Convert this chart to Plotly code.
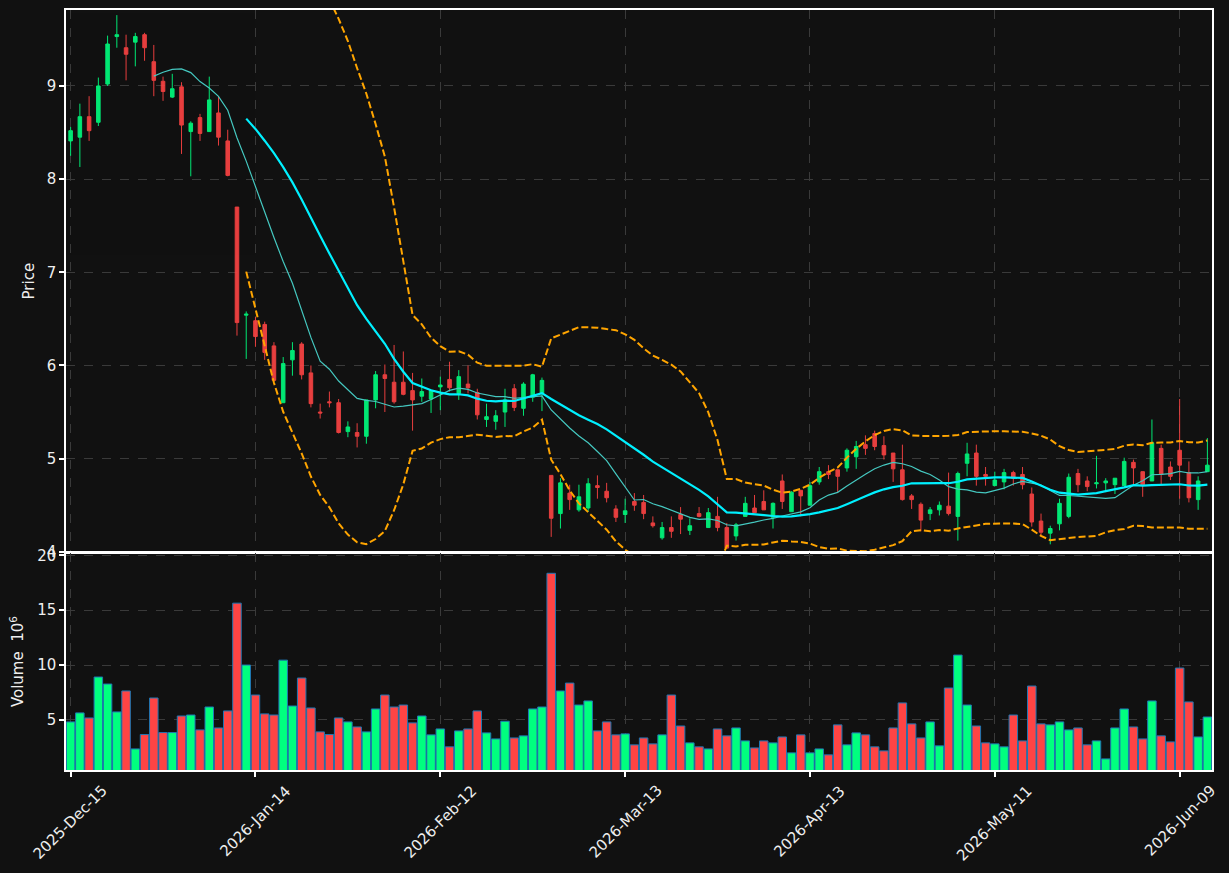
import pandas as pd
import plotly.graph_objects as go
from plotly.subplots import make_subplots

# ---------------- data ----------------
START_DATE = "2025-12-15"
HOLIDAYS = ["2025-12-25", "2026-01-01", "2026-01-19", "2026-02-16", "2026-04-03", "2026-05-25"]

OPEN = [8.41, 8.45, 8.67, 8.61, 9.02, 9.53, 9.41, 9.47, 9.55, 9.26,
        9.05, 8.88, 8.99, 8.51, 8.66, 8.51, 8.71, 8.41, 7.70, 6.54,
        6.48, 6.44, 6.21, 5.60, 6.06, 6.23, 5.92, 5.50, 5.61, 5.60,
        5.29, 5.28, 5.24, 5.63, 5.90, 5.82, 5.82, 5.73, 5.67, 5.64,
        5.77, 5.85, 5.70, 5.80, 5.71, 5.42, 5.40, 5.50, 5.75, 5.54,
        5.66, 5.70, 4.82, 4.41, 4.63, 4.45, 4.47, 4.71, 4.65, 4.46,
        4.40, 4.54, 4.53, 4.31, 4.15, 4.26, 4.40, 4.23, 4.41, 4.26,
        4.38, 4.26, 4.17, 4.38, 4.47, 4.54, 4.37, 4.76, 4.43, 4.66,
        4.50, 4.75, 4.86, 4.88, 4.90, 5.02, 5.15, 5.27, 5.14, 5.06,
        4.88, 4.60, 4.51, 4.41, 4.45, 4.49, 4.38, 4.95, 5.06, 4.83,
        4.71, 4.75, 4.85, 4.83, 4.62, 4.33, 4.20, 4.30, 4.38, 4.84,
        4.76, 4.73, 4.74, 4.72, 4.71, 4.96, 4.86, 4.76, 5.11, 4.91,
        5.09, 4.85, 4.56, 4.86]
HIGH = [8.56, 8.81, 8.89, 9.09, 9.54, 9.76, 9.55, 9.57, 9.57, 9.44,
        9.10, 9.13, 9.04, 8.62, 8.70, 9.10, 8.89, 8.53, 7.70, 6.58,
        6.52, 6.47, 6.25, 6.09, 6.25, 6.25, 6.00, 5.59, 5.72, 5.64,
        5.40, 5.38, 5.63, 5.94, 6.01, 6.22, 6.15, 5.92, 5.86, 5.74,
        5.88, 6.04, 5.95, 6.00, 5.75, 5.59, 5.52, 5.75, 5.80, 5.82,
        5.91, 5.87, 4.82, 4.79, 4.72, 4.72, 4.79, 4.82, 4.74, 4.50,
        4.57, 4.63, 4.61, 4.38, 4.32, 4.38, 4.48, 4.36, 4.48, 4.47,
        4.59, 4.31, 4.31, 4.59, 4.61, 4.66, 4.53, 4.83, 4.65, 4.66,
        4.75, 4.91, 4.93, 4.88, 5.11, 5.19, 5.25, 5.30, 5.24, 5.06,
        5.15, 4.62, 4.53, 4.48, 4.54, 4.85, 4.86, 5.17, 5.15, 4.91,
        4.86, 4.89, 4.87, 4.91, 4.69, 4.41, 4.28, 4.57, 4.84, 4.89,
        4.81, 5.03, 4.79, 4.79, 5.01, 4.99, 4.86, 5.42, 5.15, 4.97,
        5.64, 4.97, 4.81, 5.22]
LOW = [8.25, 8.13, 8.41, 8.57, 9.00, 9.41, 9.06, 9.21, 9.27, 8.89,
       8.84, 8.87, 8.27, 8.03, 8.41, 8.51, 8.36, 8.03, 6.32, 6.07,
       6.20, 6.06, 5.83, 5.60, 5.89, 5.85, 5.55, 5.43, 5.55, 5.27,
       5.23, 5.12, 5.16, 5.54, 5.50, 5.59, 5.68, 5.30, 5.61, 5.49,
       5.52, 5.72, 5.63, 5.70, 5.42, 5.34, 5.31, 5.34, 5.51, 5.46,
       5.61, 5.51, 4.16, 4.25, 4.45, 4.43, 4.43, 4.57, 4.53, 4.32,
       4.31, 4.44, 4.35, 4.26, 4.13, 4.15, 4.19, 4.18, 4.37, 4.26,
       4.22, 4.03, 4.12, 4.38, 4.42, 4.45, 4.25, 4.46, 4.43, 4.38,
       4.50, 4.72, 4.78, 4.64, 4.86, 4.89, 5.04, 5.09, 4.99, 4.75,
       4.55, 4.46, 4.22, 4.34, 4.39, 4.39, 4.12, 4.81, 4.71, 4.71,
       4.71, 4.67, 4.71, 4.67, 4.27, 4.17, 4.08, 4.23, 4.36, 4.64,
       4.65, 4.68, 4.64, 4.62, 4.71, 4.71, 4.59, 4.76, 4.72, 4.77,
       4.57, 4.53, 4.45, 4.86]
CLOSE = [8.52, 8.67, 8.52, 9.00, 9.45, 9.55, 9.34, 9.53, 9.41, 9.06,
         8.94, 8.97, 8.58, 8.60, 8.49, 8.85, 8.45, 8.04, 6.46, 6.55,
         6.31, 6.14, 5.84, 6.02, 6.16, 5.90, 5.59, 5.49, 5.60, 5.28,
         5.34, 5.24, 5.63, 5.90, 5.86, 5.61, 5.69, 5.63, 5.72, 5.73,
         5.79, 5.76, 5.88, 5.76, 5.47, 5.45, 5.46, 5.63, 5.55, 5.80,
         5.90, 5.84, 4.36, 4.74, 4.56, 4.59, 4.73, 4.69, 4.58, 4.37,
         4.44, 4.50, 4.41, 4.28, 4.26, 4.22, 4.35, 4.28, 4.38, 4.42,
         4.26, 4.04, 4.29, 4.52, 4.42, 4.45, 4.52, 4.54, 4.64, 4.60,
         4.71, 4.86, 4.83, 4.81, 5.09, 5.13, 5.11, 5.13, 5.04, 4.89,
         4.56, 4.56, 4.34, 4.45, 4.50, 4.41, 4.84, 5.05, 4.81, 4.81,
         4.77, 4.85, 4.79, 4.72, 4.32, 4.21, 4.25, 4.52, 4.80, 4.72,
         4.70, 4.74, 4.76, 4.79, 4.97, 4.90, 4.72, 5.17, 4.83, 4.81,
         4.93, 4.58, 4.76, 4.93]
VOLUME_M = [4.82, 5.64, 5.18, 8.91, 8.27, 5.73, 7.64, 2.36, 3.67, 7.00,
            3.85, 3.85, 5.36, 5.45, 4.09, 6.18, 4.27, 5.82, 15.64, 10.00,
            7.27, 5.55, 5.45, 10.45, 6.27, 8.82, 6.09, 3.91, 3.67, 5.18,
            4.82, 4.36, 3.91, 6.00, 7.27, 6.18, 6.36, 4.73, 5.36, 3.64,
            4.18, 2.55, 4.00, 4.18, 5.82, 3.82, 3.27, 4.88, 3.36, 3.55,
            6.00, 6.18, 18.36, 7.64, 8.36, 6.36, 6.73, 4.00, 4.82, 3.64,
            3.73, 2.73, 3.36, 2.82, 3.64, 7.27, 4.45, 2.91, 2.55, 2.36,
            4.18, 3.55, 4.27, 3.09, 2.45, 3.09, 2.91, 3.45, 2.00, 3.64,
            2.00, 2.36, 1.82, 4.55, 2.73, 3.82, 3.64, 2.55, 2.18, 4.27,
            6.55, 4.64, 3.36, 4.82, 2.64, 7.91, 10.91, 6.36, 4.45, 2.91,
            2.82, 2.55, 5.45, 3.09, 8.09, 4.64, 4.55, 4.82, 4.09, 4.27,
            2.73, 3.09, 1.45, 4.27, 6.00, 4.36, 3.27, 6.73, 3.55, 3.00,
            9.73, 6.64, 3.45, 5.27]
TICK_EVERY = 20

# ---------------- styling ----------------
BG = "#111111"
UP = "#00ff7f"
DOWN = "#ff4444"
FG = "#eeeeee"
GRID = "#3a3a3a"
FONT = "DejaVu Sans"

n = len(CLOSE)
idx = list(range(n))
dates = pd.bdate_range(START_DATE, periods=n, freq="C", holidays=HOLIDAYS)
date_txt = [d.strftime("%Y-%b-%d") for d in dates]
tick_pos = list(range(0, n, TICK_EVERY))
tick_txt = [date_txt[i] for i in tick_pos]

close = pd.Series(CLOSE)
ma10 = close.rolling(10).mean()
ma20 = close.rolling(20).mean()
sd20 = close.rolling(20).std(ddof=0)
bb_up = ma20 + 2 * sd20
bb_lo = ma20 - 2 * sd20

vol_colors = [UP if c >= o else DOWN for o, c in zip(OPEN, CLOSE)]

fig = make_subplots(rows=2, cols=1, shared_xaxes=True, vertical_spacing=0.0,
                    row_heights=[5, 2])

fig.add_trace(go.Candlestick(
    x=idx, open=OPEN, high=HIGH, low=LOW, close=CLOSE,
    text=date_txt, hoverinfo="text+x",
    increasing=dict(line=dict(color=UP, width=1), fillcolor=UP),
    decreasing=dict(line=dict(color=DOWN, width=1), fillcolor=DOWN),
    whiskerwidth=0, opacity=0.9, showlegend=False), row=1, col=1)

fig.add_trace(go.Scatter(x=idx, y=ma10, mode="lines",
                         line=dict(color="#45c8c0", width=1.2),
                         showlegend=False, hoverinfo="skip"), row=1, col=1)
fig.add_trace(go.Scatter(x=idx, y=ma20, mode="lines",
                         line=dict(color="#00f0ff", width=2.2),
                         showlegend=False, hoverinfo="skip"), row=1, col=1)
for band in (bb_up, bb_lo):
    fig.add_trace(go.Scatter(x=idx, y=band, mode="lines",
                             line=dict(color="#ffa500", width=2, dash="7px,3px"),
                             showlegend=False, hoverinfo="skip"), row=1, col=1)

fig.add_trace(go.Bar(x=idx, y=VOLUME_M, marker=dict(color=vol_colors,
                     line=dict(color="#1f77b4", width=1)),
                     showlegend=False), row=2, col=1)

axis_common = dict(showline=True, linecolor="white", linewidth=1.5, mirror=True,
                   showgrid=True, gridcolor=GRID, griddash="dash", gridwidth=1,
                   zeroline=False, automargin=False,
                   tickfont=dict(family=FONT, size=15, color=FG))

fig.update_xaxes(**axis_common, range=[-0.5, n - 0.5], tickvals=tick_pos,
                 showticklabels=False, rangeslider=dict(visible=False))
fig.update_xaxes(ticks="outside", ticklen=5, tickwidth=1.5, tickcolor="white", row=2, col=1)
fig.update_xaxes(ticks="", row=1, col=1)

fig.update_yaxes(**axis_common, ticks="outside", ticklen=5, tickwidth=1.5,
                 tickcolor="white")
fig.update_yaxes(range=[3.995, 9.815], dtick=1, domain=[0.2865, 1.0],
                 title=dict(text="Price", font=dict(family=FONT, size=15, color=FG),
                            standoff=8), row=1, col=1)
fig.update_yaxes(range=[0.44, 20.2], tickvals=[5, 10, 15, 20], domain=[0.0, 0.2854],
                 title=dict(text="Volume  10<sup>6</sup>",
                            font=dict(family=FONT, size=15, color=FG), standoff=10),
                 row=2, col=1)

for p, t in zip(tick_pos, tick_txt):
    fig.add_annotation(x=p, xref="x2", y=0, yref="paper", text=t, showarrow=False,
                       textangle=-45, xanchor="center", yanchor="top", yshift=-9,
                       font=dict(family=FONT, size=15, color=FG))

fig.update_layout(width=1229, height=873, paper_bgcolor=BG, plot_bgcolor=BG,
                  margin=dict(l=66, r=17, t=10, b=103, autoexpand=False),
                  boxgap=0.45, bargap=0.08,
                  showlegend=False, font=dict(family=FONT, color=FG))

fig.write_html("out.html")
